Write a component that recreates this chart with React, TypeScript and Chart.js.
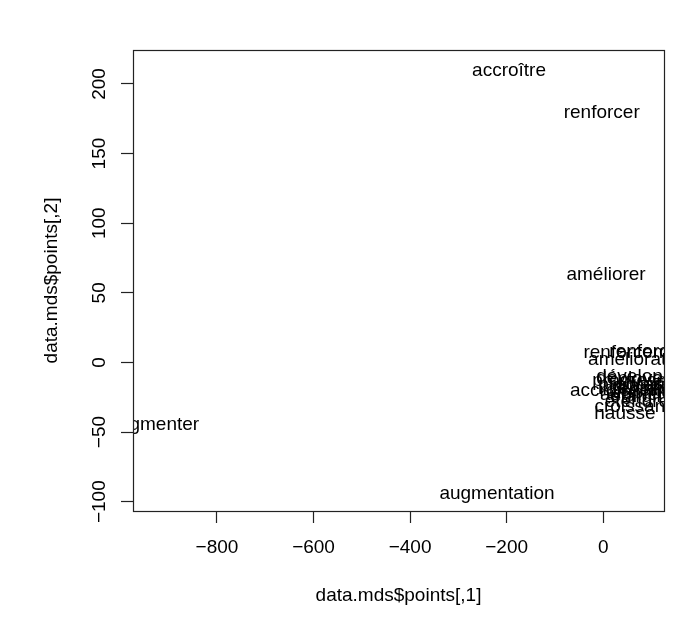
import React, { useEffect, useRef } from "react";
import { Chart, registerables } from "chart.js";

Chart.register(...registerables);

// Word labels placed by classical MDS (two dimensions)
const WORDS = [
  "accroître",
  "renforcer",
  "améliorer",
  "augmenter",
  "augmentation",
  "renforcement",
  "renforcé",
  "amélioration",
  "développer",
  "déployer",
  "progression",
  "progresser",
  "grandir",
  "intensifier",
  "amplifier",
  "accroissement",
  "augmenté",
  "élargir",
  "étendre",
  "croissance",
  "hausse",
];
const DIM1 = [-195, -3, 6, -931, -220, 75, 85, 76, 83, 61, 80, 84, 80, 74, 81, 58, 81, 69, 70, 76, 45];
const DIM2 = [209.5, 179, 63, -45, -94.5, 7, 7.5, 2, -10, -11.5, -13, -16, -17, -19, -21.5, -20, -23, -25, -28, -32, -37];

const X_LIMITS = [-974, 126];
const Y_LIMITS = [-106.7, 224.4];
const X_TICKS = [-800, -600, -400, -200, 0];
const Y_TICKS = [-100, -50, 0, 50, 100, 150, 200];
const X_TITLE = "data.mds$points[,1]";
const Y_TITLE = "data.mds$points[,2]";

const FONT = "'Liberation Sans', Arial, Helvetica, sans-serif";
const FONT_SIZE = 19;

const fmt = (v: number | string) => String(v).replace("-", "\u2212");

const textPlugin = {
  id: "mdsText",
  afterDatasetsDraw(chart: any) {
    const { ctx, chartArea } = chart;
    const { left, top, right, bottom } = chartArea;
    const meta = chart.getDatasetMeta(0);
    ctx.save();
    ctx.beginPath();
    ctx.rect(left, top, right - left, bottom - top);
    ctx.clip();
    ctx.font = `${FONT_SIZE}px ${FONT}`;
    ctx.fillStyle = "#000";
    ctx.textAlign = "center";
    ctx.textBaseline = "middle";
    meta.data.forEach((el: any, i: number) => {
      ctx.fillText(WORDS[i], el.x, el.y);
    });
    ctx.restore();

    ctx.save();
    ctx.strokeStyle = "#222";
    ctx.lineWidth = 1.2;
    ctx.strokeRect(Math.round(left) + 0.5, Math.round(top) + 0.5, Math.round(right - left), Math.round(bottom - top));
    ctx.restore();
  },
};

export default function App() {
  const ref = useRef<HTMLCanvasElement | null>(null);

  useEffect(() => {
    if (!ref.current) return;
    const chart = new Chart(ref.current, {
      type: "scatter",
      data: {
        datasets: [
          {
            data: DIM1.map((x, i) => ({ x, y: DIM2[i] })),
            pointRadius: 0,
            pointHoverRadius: 0,
            showLine: false,
          },
        ],
      },
      options: {
        responsive: false,
        animation: false,
        devicePixelRatio: 1,
        layout: { padding: { top: 50, right: 36, left: 0, bottom: 0 } },
        plugins: { legend: { display: false }, tooltip: { enabled: false } },
        events: [],
        scales: {
          x: {
            type: "linear",
            min: X_LIMITS[0],
            max: X_LIMITS[1],
            afterBuildTicks: (s: any) => {
              s.ticks = X_TICKS.map((v) => ({ value: v }));
            },
            afterFit: (s: any) => {
              s.height = 110;
            },
            grid: {
              drawOnChartArea: false,
              drawTicks: true,
              tickLength: 12,
              tickColor: "#222",
              tickWidth: 1.2,
            },
            border: { display: false },
            ticks: {
              padding: 13,
              color: "#000",
              font: { family: FONT, size: FONT_SIZE },
              callback: (v: any) => fmt(v),
              maxRotation: 0,
              minRotation: 0,
              autoSkip: false,
            },
            title: {
              display: true,
              text: X_TITLE,
              color: "#000",
              font: { family: FONT, size: FONT_SIZE },
              padding: { top: 0, bottom: 14 },
            },
          },
          y: {
            type: "linear",
            min: Y_LIMITS[0],
            max: Y_LIMITS[1],
            afterBuildTicks: (s: any) => {
              s.ticks = Y_TICKS.map((v) => ({ value: v }));
            },
            afterFit: (s: any) => {
              s.width = 133;
            },
            grid: {
              drawOnChartArea: false,
              drawTicks: true,
              tickLength: 12,
              tickColor: "#222",
              tickWidth: 1.2,
            },
            border: { display: false },
            ticks: {
              padding: 0,
              color: "#000",
              font: { family: FONT, size: FONT_SIZE },
              callback: (v: any) => fmt(v),
              minRotation: 90,
              maxRotation: 90,
              crossAlign: "center",
              autoSkip: false,
            },
            title: {
              display: true,
              text: Y_TITLE,
              color: "#000",
              font: { family: FONT, size: FONT_SIZE },
              padding: { top: 40, bottom: 0 },
            },
          },
        },
      },
      plugins: [textPlugin],
    } as any);
    return () => chart.destroy();
  }, []);

  return (
    <div style={{ position: "fixed", left: 0, top: 0, width: 700, height: 621, background: "#fff" }}>
      <canvas ref={ref} width={700} height={621} style={{ display: "block", width: 700, height: 621 }} />
    </div>
  );
}
